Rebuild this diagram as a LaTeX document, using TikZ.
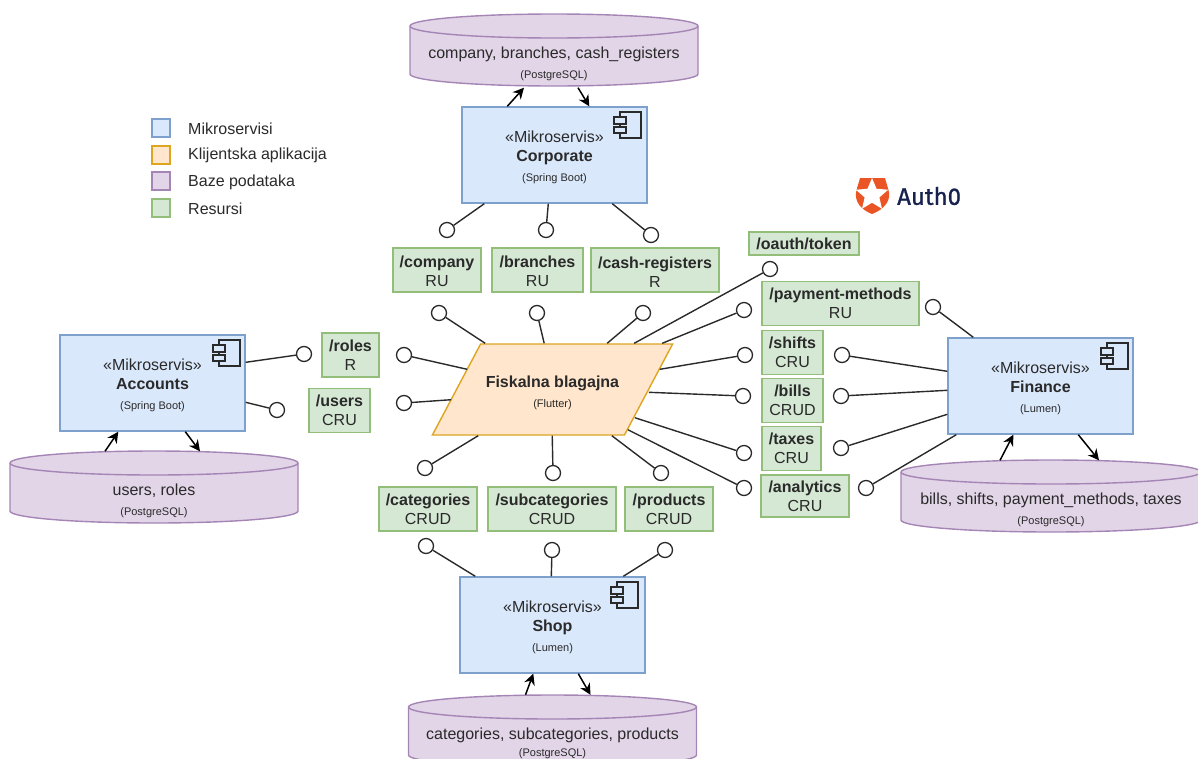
\documentclass[tikz,border=0pt]{standalone}
\usepackage{fontspec}
\setmainfont{Liberation Sans}
\newfontfamily\logofont[FakeBold=1]{Fira Sans}
\usetikzlibrary{arrows.meta,shapes.geometric}

\definecolor{msfill}{HTML}{DAE8FC}
\definecolor{msline}{HTML}{7EA0CC}
\definecolor{appfill}{HTML}{FFE6CC}
\definecolor{appline}{HTML}{DDA520}
\definecolor{dbfill}{HTML}{E1D5E7}
\definecolor{dbline}{HTML}{A585B5}
\definecolor{resfill}{HTML}{D5E8D4}
\definecolor{resline}{HTML}{93BE7A}
\definecolor{authorange}{HTML}{EB5424}
\definecolor{authnavy}{HTML}{16214D}
\definecolor{ink}{HTML}{2A2A2A}

\newcommand{\subtxt}{\fontsize{11}{13}\selectfont}
\newcommand{\mslabel}[2]{\rule{0pt}{16pt}«Mikroservis»\\\textbf{#1}\\[1pt]{\subtxt (#2)}}

% centre x, top y, half width
\newcommand{\dbdrum}[3]{
    \filldraw[draw=dbline, fill=dbfill, line width=1.4pt] ({#1-#3},{#2+12})
        arc[start angle=180, end angle=0, x radius=#3pt, y radius=12pt] -- ++(0,48)
        arc[start angle=0, end angle=-180, x radius=#3pt, y radius=12pt] -- cycle;
    \draw[draw=dbline, line width=1.4pt] ({#1-#3},{#2+12})
        arc[start angle=180, end angle=360, x radius=#3pt, y radius=12pt];
}

\tikzset{
    comp icon/.pic={
        \draw[fill=msfill,line width=1.2pt,draw=ink] (-21,1) rectangle (0,27);
        \draw[fill=msfill,line width=1.2pt,draw=ink] (-27,6) rectangle (-15,13);
        \draw[fill=msfill,line width=1.2pt,draw=ink] (-27,16) rectangle (-15,22);
    }
}

\begin{document}
\begin{tikzpicture}[>={Stealth[length=11pt,width=11pt]}, x=1pt, y=-1pt,
    every node/.style={font=\fontsize{16}{19}\selectfont, text=ink, align=center},
    ms/.style={draw=msline, fill=msfill, line width=1.4pt, minimum width=185pt, minimum height=96pt, inner sep=0pt},
    app/.style={trapezium, trapezium left angle=42, trapezium right angle=138, trapezium stretches=true,
        draw=appline, fill=appfill, line width=1.4pt, minimum width=241pt, minimum height=91pt, inner sep=0pt},
    db/.style={minimum width=288pt, minimum height=48pt, inner sep=0pt},
    res/.style={draw=resline, fill=resfill, line width=1.4pt, minimum height=44pt, inner sep=0pt},
    lolli/.style={circle, draw=ink, fill=white, line width=1.3pt, minimum size=15pt, inner sep=0pt},
    conn/.style={draw=ink, line width=1.4pt},
    flow/.style={->, draw=black, line width=1.5pt},
    key/.style={line width=1.4pt, minimum size=18pt, inner sep=0pt},
    keytext/.style={anchor=west, inner sep=0pt}]

    \useasboundingbox (0,0) rectangle (1198,758);

    % legend
    \node[key, draw=msline, fill=msfill] (kms) at (161,128) {};
    \node[key, draw=appline, fill=appfill] (kapp) at (161,155) {};
    \node[key, draw=dbline, fill=dbfill] (kdb) at (161,181) {};
    \node[key, draw=resline, fill=resfill] (kres) at (161,208) {};
    \node[keytext] (tms) at (188,129) {Mikroservisi};
    \node[keytext] (tapp) at (188,155) {Klijentska aplikacija};
    \node[keytext] (tdb) at (188,182) {Baze podataka};
    \node[keytext] (tres) at (188,209) {Resursi};

    % logo
    \fill[authorange] (860,178) -- (885,178) .. controls (887,186) and (890,192) .. (889,197)
        .. controls (888,205) and (880,211) .. (872,214)
        .. controls (864,211) and (857,205) .. (856,197)
        .. controls (855,192) and (858,186) .. (860,178) -- cycle;
    \node[star, star points=5, star point ratio=2.2, fill=white, minimum size=34pt, inner sep=0pt] (authstar) at (872,195) {};
    \node[font=\logofont\fontsize{24}{24}\selectfont, text=authnavy, anchor=west, inner sep=0pt] (auth) at (897,196) {Auth0};

    % services
    \node[ms] (corp) at (554.5,155) {\mslabel{Corporate}{Spring Boot}};
    \node[ms] (acc) at (152.5,383) {\mslabel{Accounts}{Spring Boot}};
    \node[ms] (fin) at (1040.5,386) {\mslabel{Finance}{Lumen}};
    \node[ms] (shop) at (552.5,625) {\mslabel{Shop}{Lumen}};
    \pic at (641,111) {comp icon};
    \pic at (240,339) {comp icon};
    \pic at (1128,342) {comp icon};
    \pic at (638,581) {comp icon};

    % client
    \node[app] (cli) at (552.5,389.5) {\rule{0pt}{18pt}\textbf{Fiskalna blagajna}\\[1pt]{\subtxt (Flutter)}};

    % databases
    \dbdrum{554}{14}{144}
    \dbdrum{154}{451}{144}
    \dbdrum{1051}{460}{150}
    \dbdrum{552.5}{695}{144}
    \node[db] (dbcorp) at (554,63.5) {company, branches, cash\_registers\\[1pt]{\subtxt (PostgreSQL)}};
    \node[db] (dbacc) at (154,501) {users, roles\\[1pt]{\subtxt (PostgreSQL)}};
    \node[db, minimum width=300pt] (dbfin) at (1051,510) {bills, shifts, payment\_methods, taxes\\[1pt]{\subtxt (PostgreSQL)}};
    \node[db] (dbshop) at (552.5,743) {categories, subcategories, products\\[-2pt]{\subtxt (PostgreSQL)}};

    % resources
    \node[res, minimum width=88pt] (company) at (437,270) {\rule{0pt}{15pt}\textbf{/company}\\RU};
    \node[res, minimum width=91pt] (branches) at (537.5,270) {\rule{0pt}{15pt}\textbf{/branches}\\RU};
    \node[res, minimum width=128pt] (cashreg) at (655,270) {\rule{0pt}{15pt}\textbf{/cash-registers}\\R};
    \node[res, minimum width=110pt, minimum height=23pt] (oauth) at (804,243.5) {\textbf{/oauth/token}};
    \node[res, minimum width=157pt] (payment) at (840.5,303.5) {\textbf{/payment-methods}\\RU};
    \node[res, minimum width=61pt] (shifts) at (792.5,352.5) {\textbf{/shifts}\\CRU};
    \node[res, minimum width=61pt] (bills) at (792.5,400.5) {\textbf{/bills}\\CRUD};
    \node[res, minimum width=59pt] (taxes) at (791.5,448.5) {\textbf{/taxes}\\CRU};
    \node[res, minimum width=88pt, minimum height=42pt] (analytics) at (805,496) {\textbf{/analytics}\\CRU};
    \node[res, minimum width=57pt] (roles) at (350.5,355) {\textbf{/roles}\\R};
    \node[res, minimum width=61pt] (users) at (339.5,410.5) {\textbf{/users}\\CRU};
    \node[res, minimum width=98pt] (categories) at (428,509) {\textbf{/categories}\\CRUD};
    \node[res, minimum width=128pt] (subcat) at (552,509) {\textbf{/subcategories}\\CRUD};
    \node[res, minimum width=88pt] (products) at (669,509) {\textbf{/products}\\CRUD};

    % corporate side
    \node[lolli] (lc1) at (447,230) {};
    \node[lolli] (lc2) at (546,230) {};
    \node[lolli] (lc3) at (651,235) {};
    \draw[conn] (lc1) -- ([xshift=23pt]corp.south west);
    \draw[conn] (lc2) -- ([xshift=87pt]corp.south west);
    \draw[conn] (lc3) -- ([xshift=151pt]corp.south west);

    % accounts side
    \node[lolli] (la1) at (304,354) {};
    \node[lolli] (la2) at (277,410) {};
    \draw[conn] (la1) -- ([yshift=-28pt]acc.north east);
    \draw[conn] (la2) -- ([yshift=-68pt]acc.north east);

    % finance side
    \node[lolli] (lf1) at (933,307) {};
    \node[lolli] (lf2) at (842,355) {};
    \node[lolli] (lf3) at (841,396) {};
    \node[lolli] (lf4) at (841,448) {};
    \node[lolli] (lf5) at (866,488) {};
    \draw[conn] (lf1) -- ([xshift=26pt]fin.north west);
    \draw[conn] (lf2) -- ([yshift=-34pt]fin.north west);
    \draw[conn] (lf3) -- ([yshift=-53pt]fin.north west);
    \draw[conn] (lf4) -- ([yshift=-77pt]fin.north west);
    \draw[conn] (lf5) -- ([xshift=9pt]fin.south west);

    % shop side
    \node[lolli] (ls1) at (426,546) {};
    \node[lolli] (ls2) at (552,550) {};
    \node[lolli] (ls3) at (665,550) {};
    \draw[conn] (ls1) -- ([xshift=16pt]shop.north west);
    \draw[conn] (ls2) -- ([xshift=92pt]shop.north west);
    \draw[conn] (ls3) -- ([xshift=164pt]shop.north west);

    % client side
    \node[lolli] (p1) at (439,313) {};
    \node[lolli] (p2) at (537,313) {};
    \node[lolli] (p3) at (643,313) {};
    \node[lolli] (p4) at (770,269) {};
    \node[lolli] (p5) at (744,310) {};
    \node[lolli] (p6) at (745,355) {};
    \node[lolli] (p7) at (743,396) {};
    \node[lolli] (p8) at (744,453) {};
    \node[lolli] (p9) at (744,488) {};
    \node[lolli] (p10) at (661,473) {};
    \node[lolli] (p11) at (553,473) {};
    \node[lolli] (p12) at (425,468) {};
    \node[lolli] (p13) at (404,355) {};
    \node[lolli] (p14) at (404,403) {};
    \draw[conn] (p1) -- ([xshift=5pt]cli.top left corner);
    \draw[conn] (p2) -- ([xshift=64pt]cli.top left corner);
    \draw[conn] (p3) -- ([xshift=127pt]cli.top left corner);
    \draw[conn] (p4) -- ([xshift=154pt]cli.top left corner);
    \draw[conn] (p5) -- ([xshift=182pt]cli.top left corner);
    \draw[conn] (p6) -- ([xshift=-14pt,yshift=-26pt]cli.top right corner);
    \draw[conn] (p7) -- ([xshift=-25pt,yshift=-49pt]cli.top right corner);
    \draw[conn] (p8) -- ([xshift=10pt,yshift=18pt]cli.bottom right corner);
    \draw[conn] (p9) -- ([xshift=3pt,yshift=6pt]cli.bottom right corner);
    \draw[conn] (p10) -- ([xshift=-13pt]cli.bottom right corner);
    \draw[conn] (p11) -- ([xshift=121pt]cli.bottom left corner);
    \draw[conn] (p12) -- ([xshift=47pt]cli.bottom left corner);
    \draw[conn] (p13) -- ([xshift=-13pt,yshift=-26pt]cli.top left corner);
    \draw[conn] (p14) -- ([xshift=20pt,yshift=36pt]cli.bottom left corner);

    % data access
    \draw[flow] ([xshift=46pt]corp.north west) -- ([xshift=-30pt]dbcorp.south);
    \draw[flow] ([xshift=24pt]dbcorp.south) -- ([xshift=128pt]corp.north west);
    \draw[flow] ([xshift=-49pt,yshift=25.5pt]dbacc.north) -- ([xshift=59pt]acc.south west);
    \draw[flow] ([xshift=126pt]acc.south west) -- ([xshift=46pt,yshift=25.5pt]dbacc.north);
    \draw[flow] ([xshift=-51pt,yshift=25.5pt]dbfin.north) -- ([xshift=66pt]fin.south west);
    \draw[flow] ([xshift=131pt]fin.south west) -- ([xshift=48pt,yshift=25.5pt]dbfin.north);
    \draw[flow] ([xshift=-27pt,yshift=24pt]dbshop.north) -- ([xshift=74pt]shop.south west);
    \draw[flow] ([xshift=119pt]shop.south west) -- ([xshift=38pt,yshift=24pt]dbshop.north);
\end{tikzpicture}
\end{document}
